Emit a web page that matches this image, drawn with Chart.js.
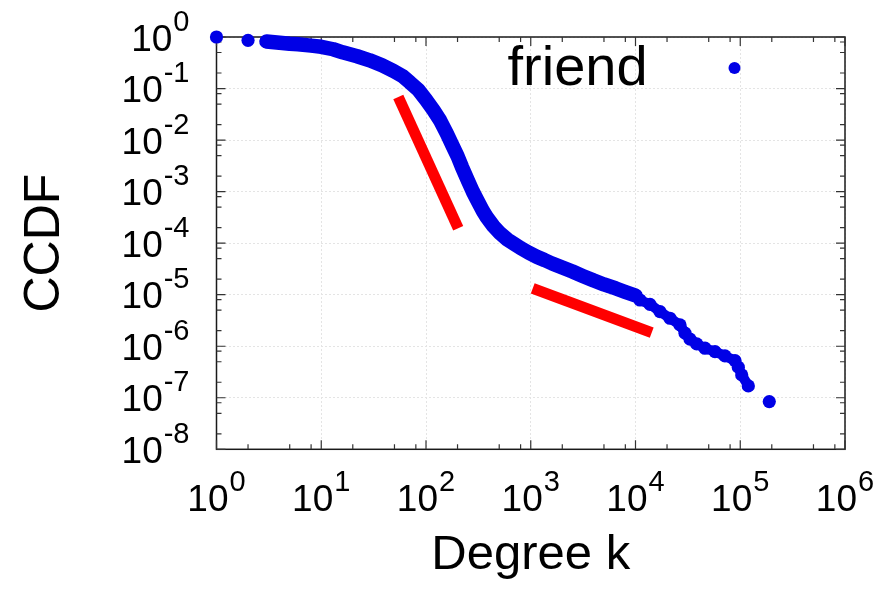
<!DOCTYPE html>
<html>
<head>
<meta charset="utf-8">
<script src="https://cdn.jsdelivr.net/npm/chart.js@4"></script>
<style>
  html, body { margin: 0; padding: 0; background: #ffffff; }
  canvas { display: block; }
</style>
</head>
<body>
<canvas id="ccdfChart" width="893" height="590"></canvas>
<script>
// Degree distribution of the friend graph: complementary CDF per degree k
const seriesName = 'friend';
const degree = [
  1, 2, 3, 4, 5, 6, 8, 10, 13, 16, 22, 29, 38, 49, 60, 70, 85, 100, 118, 136,
  158, 180, 200, 220, 250, 280, 310, 350, 380, 440, 510, 600, 700, 800, 950,
  1140, 1350, 1600, 2000, 2500, 3150, 4000, 5000, 6500, 8000, 10000, 11040,
  13750, 17140, 21340, 26600, 29700, 33150, 38400, 46050, 57400, 71450, 89100,
  95800, 103300, 119400, 189300
];
const ccdf = [
  1, 0.863, 0.818, 0.772, 0.738, 0.722, 0.681, 0.646, 0.578, 0.505, 0.423,
  0.353, 0.283, 0.219, 0.173, 0.1324, 0.0927, 0.0607, 0.038, 0.0243, 0.0134,
  7.62e-3, 4.88e-3, 3.03e-3, 1.67e-3, 1.0e-3, 6.7e-4, 4.19e-4, 3.2e-4, 2.14e-4,
  1.55e-4, 1.17e-4, 9.6e-5, 8.04e-5, 6.58e-5, 5.45e-5, 4.71e-5, 4.03e-5,
  3.37e-5, 2.82e-5, 2.30e-5, 1.88e-5, 1.58e-5, 1.32e-5, 1.13e-5, 9.64e-6,
  7.89e-6, 6.5e-6, 4.69e-6, 3.49e-6, 2.59e-6, 1.79e-6, 1.37e-6, 1.11e-6,
  9.15e-7, 7.85e-7, 6.48e-7, 5.26e-7, 3.92e-7, 2.78e-7, 1.70e-7, 8.44e-8
];

// Power-law guide segments
const steepFitDegree = [54.4, 203];
const steepFitCcdf = [0.0688, 1.94e-4];
const tailFitDegree = [1044, 14280];
const tailFitCcdf = [1.33e-5, 1.84e-6];

// Axis decades (exponents of 10) and minor tick multipliers
const xDecades = [0, 1, 2, 3, 4, 5, 6];
const yDecades = [0, -1, -2, -3, -4, -5, -6, -7, -8];
const minorSteps = [2, 5, 8];

const xTitle = 'Degree k';
const yTitle = 'CCDF';

const FONT = '"Liberation Sans", Arial, Helvetica, sans-serif';
const BLUE = 'rgb(0, 0, 230)';
const RED = 'rgb(255, 0, 0)';

const toPoints = (xs, ys) => xs.map((x, i) => ({ x: x, y: ys[i] }));

function decadeTicks(exps) {
  return exps.map(e => ({ value: Math.pow(10, e), major: true }));
}

function minorValues(exps) {
  const lo = Math.min(...exps), hi = Math.max(...exps);
  const out = [];
  for (let e = lo; e < hi; e++) {
    minorSteps.forEach(m => out.push(m * Math.pow(10, e)));
  }
  return out;
}

function supText(e) {
  return (e < 0 ? '-' : '') + Math.abs(e);
}

// Draws "10" followed by a raised exponent
function drawPower(ctx, e, anchorX, baseline, align) {
  const baseSize = 37, supSize = 29, gap = 1, rise = 20;
  ctx.font = baseSize + 'px ' + FONT;
  const wBase = ctx.measureText('10').width;
  ctx.font = supSize + 'px ' + FONT;
  const s = supText(e);
  const wSup = ctx.measureText(s).width;
  const total = wBase + gap + wSup;
  const left = align === 'center' ? anchorX - total / 2 : anchorX - total;
  ctx.textAlign = 'left';
  ctx.textBaseline = 'alphabetic';
  ctx.fillStyle = '#000';
  ctx.font = baseSize + 'px ' + FONT;
  ctx.fillText('10', left, baseline);
  ctx.font = supSize + 'px ' + FONT;
  ctx.fillText(s, left + wBase + gap, baseline - rise);
}

const framePlugin = {
  id: 'frame',
  beforeDatasetsDraw(chart) {
    const { ctx, chartArea: a, scales } = chart;
    const xs = scales.x, ys = scales.y;
    ctx.save();
    ctx.strokeStyle = '#1a1a1a';
    ctx.lineWidth = 1.5;
    ctx.strokeRect(a.left, a.top, a.right - a.left, a.bottom - a.top);
    ctx.strokeStyle = '#333';
    ctx.lineWidth = 1.2;
    const major = 9, minor = 5;
    ctx.beginPath();
    xDecades.forEach(e => {
      const px = xs.getPixelForValue(Math.pow(10, e));
      ctx.moveTo(px, a.bottom); ctx.lineTo(px, a.bottom - major);
      ctx.moveTo(px, a.top); ctx.lineTo(px, a.top + major);
    });
    minorValues(xDecades).forEach(v => {
      const px = xs.getPixelForValue(v);
      ctx.moveTo(px, a.bottom); ctx.lineTo(px, a.bottom - minor);
      ctx.moveTo(px, a.top); ctx.lineTo(px, a.top + minor);
    });
    yDecades.forEach(e => {
      const py = ys.getPixelForValue(Math.pow(10, e));
      ctx.moveTo(a.left, py); ctx.lineTo(a.left + major, py);
      ctx.moveTo(a.right, py); ctx.lineTo(a.right - major, py);
    });
    minorValues(yDecades).forEach(v => {
      const py = ys.getPixelForValue(v);
      ctx.moveTo(a.left, py); ctx.lineTo(a.left + minor, py);
      ctx.moveTo(a.right, py); ctx.lineTo(a.right - minor, py);
    });
    ctx.stroke();
    ctx.restore();
  },
  afterDraw(chart) {
    const { ctx, chartArea: a, scales } = chart;
    ctx.save();
    xDecades.forEach(e => {
      const px = scales.x.getPixelForValue(Math.pow(10, e));
      drawPower(ctx, e, px, a.bottom + 62, 'center');
    });
    yDecades.forEach(e => {
      const py = scales.y.getPixelForValue(Math.pow(10, e));
      drawPower(ctx, e, a.left - 27, py + 13.5, 'right');
    });
    // Legend entry: label, then marker on its right
    const ds = chart.data.datasets[0];
    ctx.font = '56px ' + FONT;
    ctx.fillStyle = '#000';
    ctx.textAlign = 'left';
    ctx.textBaseline = 'alphabetic';
    ctx.fillText(ds.label, a.left + 291, a.top + 48);
    ctx.beginPath();
    ctx.arc(a.left + 518, a.top + 31, 6, 0, Math.PI * 2);
    ctx.fillStyle = ds.pointBackgroundColor;
    ctx.fill();
    ctx.restore();
  }
};

// Dense runs of points read as one thick band; isolated points stay separate,
// and the sparse high-degree tail keeps a beaded look.
const segDist = c => Math.hypot(c.p1.x - c.p0.x, c.p1.y - c.p0.y);
const segColor = c => segDist(c) > 16 ? 'rgba(0,0,0,0)' : undefined;
const segWidth = c => c.p0.parsed.x >= 1e4 ? 10 : undefined;

new Chart(document.getElementById('ccdfChart'), {
  type: 'scatter',
  data: {
    datasets: [
      {
        label: seriesName,
        data: toPoints(degree, ccdf),
        showLine: true,
        borderColor: BLUE,
        borderWidth: 14.5,
        borderJoinStyle: 'round',
        borderCapStyle: 'round',
        pointRadius: 6.6,
        pointBackgroundColor: BLUE,
        pointBorderWidth: 0,
        tension: 0,
        clip: false,
        segment: { borderColor: segColor, borderWidth: segWidth }
      },
      {
        label: 'fit-steep',
        data: toPoints(steepFitDegree, steepFitCcdf),
        showLine: true,
        borderColor: RED,
        borderWidth: 11,
        borderCapStyle: 'butt',
        pointRadius: 0
      },
      {
        label: 'fit-tail',
        data: toPoints(tailFitDegree, tailFitCcdf),
        showLine: true,
        borderColor: RED,
        borderWidth: 11,
        borderCapStyle: 'butt',
        pointRadius: 0
      }
    ]
  },
  options: {
    responsive: false,
    animation: false,
    devicePixelRatio: 1,
    events: [],
    layout: { padding: { left: 0, top: 37, right: 48, bottom: 0 } },
    plugins: {
      legend: { display: false },
      tooltip: { enabled: false },
      title: { display: false }
    },
    scales: {
      x: {
        type: 'logarithmic',
        position: 'bottom',
        min: 1,
        max: 1e6,
        afterBuildTicks: s => { s.ticks = decadeTicks(xDecades); },
        afterFit: s => { s.height = 140.7; },
        ticks: { display: false },
        grid: { color: '#e4e4e4', lineWidth: 1, drawTicks: false },
        border: { display: false, dash: [2, 2] },
        title: {
          display: true,
          text: xTitle,
          color: '#000',
          font: { family: FONT, size: 49 },
          padding: { top: 0, bottom: 5 }
        }
      },
      y: {
        type: 'logarithmic',
        position: 'left',
        min: 1e-8,
        max: 1,
        afterBuildTicks: s => { s.ticks = decadeTicks(yDecades); },
        afterFit: s => { s.width = 216.5; },
        ticks: { display: false },
        grid: { color: '#e4e4e4', lineWidth: 1, drawTicks: false },
        border: { display: false, dash: [2, 2] },
        title: {
          display: true,
          text: yTitle,
          color: '#000',
          font: { family: FONT, size: 50 },
          padding: { top: 15, bottom: 0 }
        }
      }
    }
  },
  plugins: [framePlugin]
});
</script>
</body>
</html>
